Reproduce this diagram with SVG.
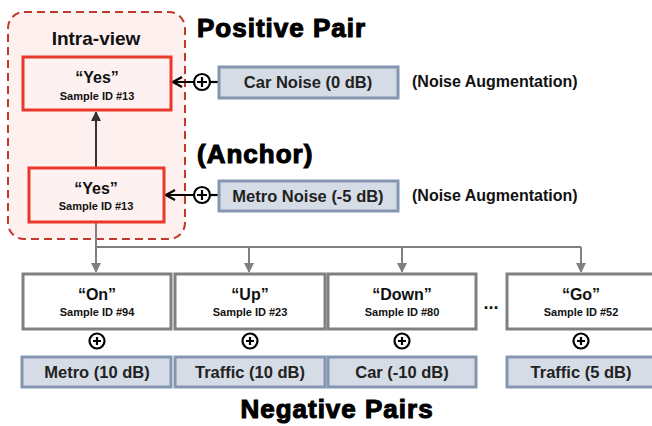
<svg xmlns="http://www.w3.org/2000/svg" width="652" height="426" viewBox="0 0 652 426">
<style>
.t{font-family:"Liberation Sans",Arial,sans-serif;font-weight:bold;fill:#111;text-anchor:middle}
.l{text-anchor:start}
.big{font-family:"Liberation Sans",Arial,sans-serif;font-weight:bold;fill:#000;stroke:#000;stroke-width:1.1;font-size:26px;letter-spacing:1px}
.w{font-size:16px}
.s{font-size:11px}
.n{font-size:16.5px;fill:#222}
.red{fill:#fdf2f1;stroke:#e8392b;stroke-width:3}
.neg{fill:#fff;stroke:#808080;stroke-width:3}
.noise{fill:#d6dce5;stroke:#8496b0;stroke-width:3}
.plus{fill:#fff;stroke:#000;stroke-width:2.2}
.pl{stroke:#000;stroke-width:2.2}
</style>
<defs>
<marker id="ad" viewBox="0 0 10 10" refX="9" refY="5" markerWidth="5" markerHeight="5" orient="auto"><path d="M0,0 L10,5 L0,10 z" fill="#333"/></marker>
<marker id="ag" viewBox="0 0 10 10" refX="9" refY="5" markerWidth="5" markerHeight="5" orient="auto"><path d="M0,0 L10,5 L0,10 z" fill="#808080"/></marker>
<marker id="oa" viewBox="0 0 12 12" refX="10" refY="6" markerWidth="6" markerHeight="6" orient="auto"><path d="M1,1 L10,6 L1,11" fill="none" stroke="#000" stroke-width="2.2"/></marker>
</defs>
<g id="intra-view">
<rect x="8" y="12" width="177" height="227" rx="16" fill="#fdf0ef" stroke="#c0392b" stroke-width="2" stroke-dasharray="8,5"/>
<text class="t" x="96" y="45" font-size="19">Intra-view</text>
</g>
<text class="big" x="197" y="37">Positive Pair</text>
<text class="big" x="197" y="163">(Anchor)</text>
<text class="big" x="337" y="418" text-anchor="middle">Negative Pairs</text>
<g id="connectors">
<line x1="96" y1="167" x2="96" y2="112" stroke="#333" stroke-width="2" marker-end="url(#ad)"/>
<line x1="219" y1="82" x2="210" y2="82" class="pl"/>
<line x1="194" y1="82" x2="173" y2="82" stroke="#000" stroke-width="2" marker-end="url(#oa)"/>
<line x1="219" y1="195" x2="210" y2="195" class="pl"/>
<line x1="194" y1="195" x2="166" y2="195" stroke="#000" stroke-width="2" marker-end="url(#oa)"/>
<polyline points="96,223 96,247 581,247" fill="none" stroke="#808080" stroke-width="2"/>
<line x1="96" y1="247" x2="96" y2="272" stroke="#808080" stroke-width="2" marker-end="url(#ag)"/>
<line x1="249" y1="247" x2="249" y2="272" stroke="#808080" stroke-width="2" marker-end="url(#ag)"/>
<line x1="402" y1="247" x2="402" y2="272" stroke="#808080" stroke-width="2" marker-end="url(#ag)"/>
<line x1="581" y1="247" x2="581" y2="272" stroke="#808080" stroke-width="2" marker-end="url(#ag)"/>
</g>
<g id="pos">
<rect class="red" x="23" y="57" width="148" height="53"/>
<text class="t w" x="97" y="83">“Yes”</text>
<text class="t s" x="97" y="100">Sample ID #13</text>
</g>
<g id="anchor">
<rect class="red" x="29" y="168" width="135" height="54"/>
<text class="t w" x="96" y="194">“Yes”</text>
<text class="t s" x="96" y="210">Sample ID #13</text>
</g>
<g id="plus1"><circle class="plus" cx="202" cy="82" r="8"/><path class="pl" d="M197,82 H207 M202,77 V87"/></g>
<g id="plus2"><circle class="plus" cx="202" cy="195" r="8"/><path class="pl" d="M197,195 H207 M202,190 V200"/></g>
<g id="car-noise"><rect class="noise" x="219" y="67" width="179" height="31"/><text class="t n" x="308" y="88">Car Noise (0 dB)</text></g>
<g id="metro-noise"><rect class="noise" x="219" y="181" width="179" height="30"/><text class="t n" x="308" y="202">Metro Noise (-5 dB)</text></g>
<text class="t l" x="412" y="87" font-size="16">(Noise Augmentation)</text>
<text class="t l" x="412" y="201" font-size="16">(Noise Augmentation)</text>
<g id="on"><rect class="neg" x="23" y="274" width="148" height="55"/><text class="t w" x="97" y="300">“On”</text><text class="t s" x="97" y="316">Sample ID #94</text></g>
<g id="up"><rect class="neg" x="175" y="274" width="150" height="55"/><text class="t w" x="250" y="300">“Up”</text><text class="t s" x="250" y="316">Sample ID #23</text></g>
<g id="down"><rect class="neg" x="328" y="274" width="148" height="55"/><text class="t w" x="402" y="300">“Down”</text><text class="t s" x="402" y="316">Sample ID #80</text></g>
<g id="go"><rect class="neg" x="507" y="274" width="150" height="55"/><text class="t w" x="581" y="300">“Go”</text><text class="t s" x="581" y="316">Sample ID #52</text></g>
<text class="t" x="491" y="309" font-size="18">...</text>
<g id="p3"><circle class="plus" cx="97" cy="341" r="7.5"/><path class="pl" d="M93,341 H101 M97,337 V345"/></g>
<g id="p4"><circle class="plus" cx="250" cy="341" r="7.5"/><path class="pl" d="M246,341 H254 M250,337 V345"/></g>
<g id="p5"><circle class="plus" cx="402" cy="341" r="7.5"/><path class="pl" d="M398,341 H406 M402,337 V345"/></g>
<g id="p6"><circle class="plus" cx="581" cy="341" r="7.5"/><path class="pl" d="M577,341 H585 M581,337 V345"/></g>
<g id="n1"><rect class="noise" x="22" y="357" width="149" height="30"/><text class="t n" x="97" y="378">Metro (10 dB)</text></g>
<g id="n2"><rect class="noise" x="175" y="357" width="150" height="30"/><text class="t n" x="250" y="378">Traffic (10 dB)</text></g>
<g id="n3"><rect class="noise" x="328" y="357" width="148" height="30"/><text class="t n" x="402" y="378">Car (-10 dB)</text></g>
<g id="n4"><rect class="noise" x="507" y="357" width="150" height="30"/><text class="t n" x="581" y="378">Traffic (5 dB)</text></g>
</svg>
